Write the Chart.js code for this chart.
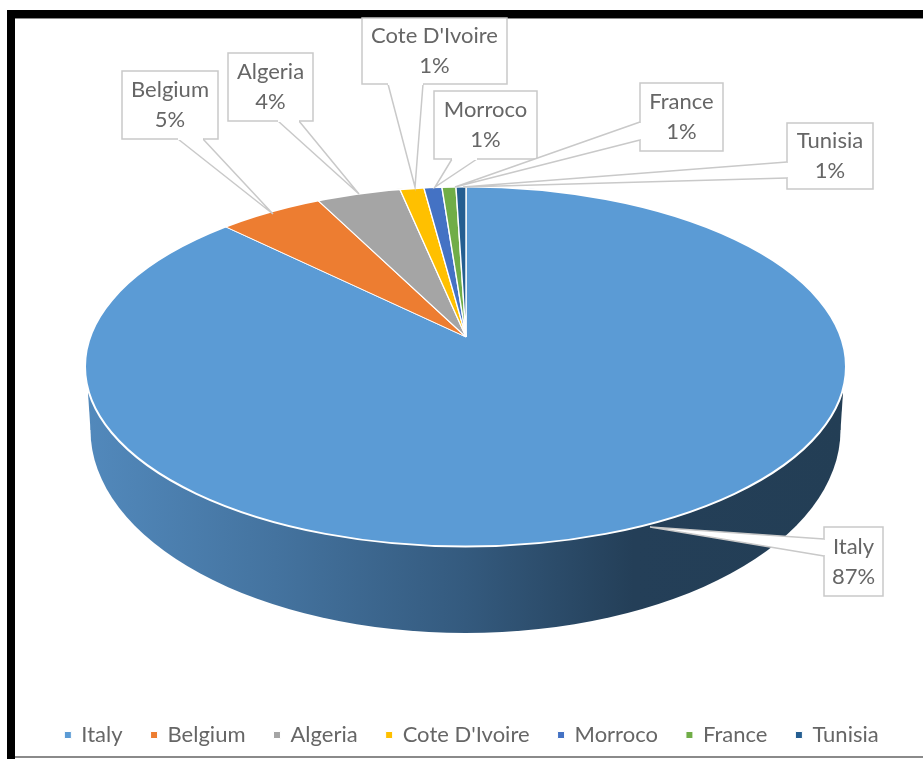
<!DOCTYPE html>
<html>
<head>
<meta charset="utf-8">
<title>Pie</title>
<script src="https://cdn.jsdelivr.net/npm/chart.js@4"></script>
<style>
  html, body { margin: 0; padding: 0; background: #fff; }
  canvas { display: block; }
</style>
</head>
<body>
<canvas id="pie" width="923" height="759"></canvas>
<script>
var categories = ["Italy", "Belgium", "Algeria", "Cote D'Ivoire", "Morroco", "France", "Tunisia"];
var shares = [87.3, 5.2, 4.2, 1.2, 0.9, 0.7, 0.5];
var colors = ["#5B9BD5", "#ED7D31", "#A5A5A5", "#FFC000", "#4472C4", "#70AD47", "#255E91"];

var textColor = "#666666";
var font = "Lato";

// top face of the pie, the slices fan out from apex (perspective look)
var top3d = { cx: 465.5, cy: 366.5, rx: 380.5, ry: 180 };
var bottom3d = { cx: 465.5, cy: 430, rx: 375, ry: 203 };
var apex = { x: 466, y: 337, radius: 480, squash: 0.47 };

// callout boxes: box x0,y0,x1,y1 then tail base a, base b, tip
var callouts = [
  { box: [824, 527, 883, 596], tail: [[824, 539], [824, 556], [650, 527]] },
  { box: [122, 71, 218, 139], tail: [[178, 139], [203, 139], [273, 214]] },
  { box: [228, 53, 313, 121], tail: [[278, 121], [299, 121], [359, 194]] },
  { box: [362, 18, 507, 84], tail: [[388, 84], [423, 84], [415, 187]] },
  { box: [434, 91, 537, 159], tail: [[452, 159], [477, 159], [435, 187]] },
  { box: [640, 83, 723, 151], tail: [[640, 122], [640, 140], [455, 187]] },
  { box: [787, 123, 873, 189], tail: [[787, 162], [787, 178], [463, 187]] }
];

function ellipsePath(ctx, e) {
  ctx.beginPath();
  ctx.ellipse(e.cx, e.cy, e.rx, e.ry, 0, 0, Math.PI * 2);
}

function drawFrame(ctx) {
  ctx.fillStyle = "#fff";
  ctx.fillRect(0, 0, 923, 759);
  ctx.fillStyle = "#000";
  ctx.fillRect(7, 10, 916, 8);
  ctx.fillRect(7, 10, 8, 749);
  ctx.fillStyle = "#8a8a8a";
  ctx.fillRect(15, 18, 908, 1);
  ctx.fillRect(15, 756, 908, 2);
}

function drawWall(ctx) {
  var g = ctx.createLinearGradient(85, 0, 846, 0);
  g.addColorStop(0, "#5289BC");
  g.addColorStop(0.25, "#44739F");
  g.addColorStop(0.5, "#345A7E");
  g.addColorStop(0.72, "#243F58");
  g.addColorStop(1, "#233E55");
  ctx.fillStyle = g;
  ellipsePath(ctx, bottom3d);
  ctx.fill();
  ctx.beginPath();
  ctx.moveTo(88, 393);
  ctx.lineTo(bottom3d.cx - bottom3d.rx, bottom3d.cy);
  ctx.lineTo(bottom3d.cx + bottom3d.rx, bottom3d.cy);
  ctx.lineTo(843, 393);
  ctx.closePath();
  ctx.fill();
}

function drawCallouts(ctx) {
  callouts.forEach(function (c, i) {
    var b = c.box, t = c.tail;
    ctx.fillStyle = "#fff";
    ctx.strokeStyle = "#c9c9c9";
    ctx.lineWidth = 1.5;
    ctx.fillRect(b[0], b[1], b[2] - b[0], b[3] - b[1]);
    ctx.strokeRect(b[0], b[1], b[2] - b[0], b[3] - b[1]);
    ctx.beginPath();
    ctx.moveTo(t[0][0], t[0][1]);
    ctx.lineTo(t[2][0], t[2][1]);
    ctx.lineTo(t[1][0], t[1][1]);
    ctx.fill();
    ctx.stroke();
    // hide the box edge where the tail joins
    ctx.strokeStyle = "#fff";
    ctx.lineWidth = 2;
    ctx.beginPath();
    ctx.moveTo(t[0][0], t[0][1] + (t[0][0] == t[1][0] ? 1 : 0));
    ctx.lineTo(t[1][0], t[1][1] - (t[0][0] == t[1][0] ? 1 : 0));
    ctx.stroke();

    var mx = (b[0] + b[2]) / 2, my = (b[1] + b[3]) / 2;
    ctx.fillStyle = textColor;
    ctx.font = "22px " + font;
    ctx.textAlign = "center";
    ctx.textBaseline = "middle";
    ctx.fillText(categories[i], mx, my - 15);
    ctx.fillText(Math.round(shares[i]) + "%", mx, my + 15);
  });
}

var fake3d = {
  id: "fake3d",
  beforeDraw: function (chart) { drawFrame(chart.ctx); },
  beforeDatasetsDraw: function (chart) {
    var ctx = chart.ctx;
    drawWall(ctx);
    var arc = chart.getDatasetMeta(0).data[0];
    var k = apex.radius / arc.outerRadius;
    ctx.save();
    ellipsePath(ctx, top3d);
    ctx.clip();
    ctx.translate(apex.x, apex.y);
    ctx.scale(k, k * apex.squash);
    ctx.translate(-arc.x, -arc.y);
  },
  afterDatasetsDraw: function (chart) {
    var ctx = chart.ctx;
    ctx.restore();
    ctx.strokeStyle = "#fff";
    ctx.lineWidth = 2;
    ellipsePath(ctx, top3d);
    ctx.stroke();
    drawCallouts(ctx);
  }
};

new Chart(document.getElementById("pie"), {
  type: "pie",
  data: {
    labels: categories,
    datasets: [{
      data: shares,
      backgroundColor: colors,
      borderColor: "#fff",
      borderWidth: 1,
      clip: false
    }]
  },
  options: {
    responsive: false,
    animation: false,
    layout: { padding: { left: 21, bottom: 3 } },
    plugins: {
      tooltip: { enabled: false },
      legend: {
        position: "bottom",
        labels: {
          usePointStyle: true,
          pointStyle: "rect",
          boxWidth: 5,
          boxHeight: 7,
          padding: 29,
          color: textColor,
          font: { family: font, size: 22 }
        }
      }
    }
  },
  plugins: [fake3d]
});
</script>
</body>
</html>
